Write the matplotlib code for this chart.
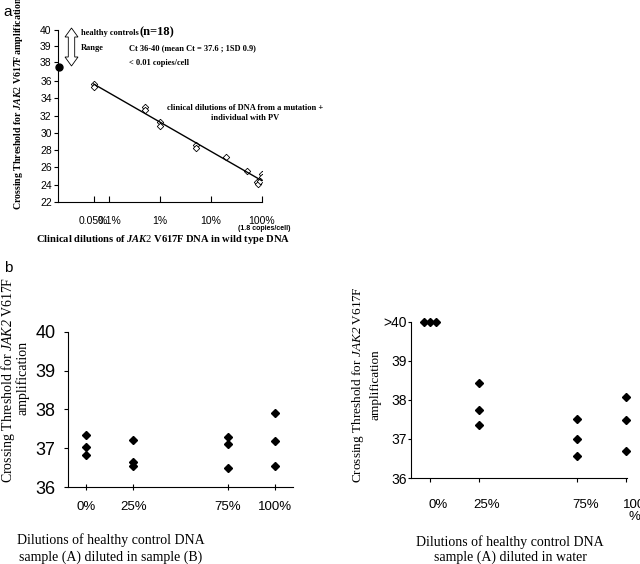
import numpy as np
import matplotlib
matplotlib.use("Agg")
import matplotlib.pyplot as plt
import matplotlib.patches as mpatches
import matplotlib.transforms as mtrans

plt.rcParams['font.family'] = ['Liberation Sans', 'DejaVu Sans']
plt.rcParams['mathtext.fontset'] = 'custom'
plt.rcParams['mathtext.it'] = 'Liberation Serif:italic:bold'
plt.rcParams['mathtext.sf'] = 'Liberation Serif:italic'
plt.rcParams['mathtext.rm'] = 'Liberation Serif'

SERIF = 'Liberation Serif'

# --- panel a: dilution series of a JAK2 V617F positive PV sample ---
dil_pct = [0.05, 0.05, 0.5, 0.5, 1, 1, 5, 5, 20, 50, 100, 100, 80, 85, 90]
ct_dil = [35.7, 35.3, 33.0, 32.7, 31.3, 30.8, 28.6, 28.3, 27.2, 25.6,
          25.2, 24.9, 24.3, 24.1, 24.4]
healthy_x = 0.0105
healthy_ct = 37.5
a_xticks = [0.05, 0.1, 1, 10, 100]
a_xlabels = ['0.05%', '0.1%', '1%', '10%', '100%']
a_yticks = [22, 24, 26, 28, 30, 32, 34, 36, 38, 39, 40]

# --- panel b: healthy control dilutions ---
b_pos = [0, 25, 75, 100]
b_labels = ['0%', '25%', '75%', '100%']
ct_in_B = [[37.35, 37.02, 36.82],
           [37.2, 36.65, 36.55],
           [37.28, 37.1, 36.48],
           [37.9, 37.18, 36.54]]
ct_in_water = [[40, 40, 40],
               [38.43, 37.73, 37.36],
               [37.5, 37.0, 36.56],
               [38.08, 37.49, 36.7]]
water_jitter = [[-3, 0, 3], [0, 0, 0], [0, 0, 0], [0, 0, 0]]
water_labels = ['0%', '25%', '75%', '100\n%']
b_yticks = [36, 37, 38, 39, 40]

W, H = 640, 564
fig = plt.figure(figsize=(W / 100, H / 100), dpi=100)


def box(l, t, r, b):
    return [l / W, 1 - b / H, (r - l) / W, (b - t) / H]


def fpos(x, y):
    return x / W, 1 - y / H


# broken-looking y axis of panel a: 36-40 is stretched
kv = [0, 22, 36, 38, 40, 60]
kp = [-190, 0, 121, 140, 172, 492]


def fwd(y):
    return np.interp(y, kv, kp)


def inv(t):
    return np.interp(t, kp, kv)


ax = fig.add_axes(box(58, 30, 262, 202))
ax.set_xscale('log')
ax.set_yscale('function', functions=(fwd, inv))
ax.set_xlim(0.01, 100)
ax.set_ylim(22, 40)
for s in ['top', 'right']:
    ax.spines[s].set_visible(False)
for s in ['left', 'bottom']:
    ax.spines[s].set_linewidth(0.8)

ax.plot(dil_pct, ct_dil, 'D', ms=3.3, mfc='white', mec='black', mew=0.6)
k, c = np.polyfit(np.log10(dil_pct), ct_dil, 1)
lx = np.array([min(dil_pct), max(dil_pct)])
ax.plot(lx, k * np.log10(lx) + c, color='black', lw=1)
ax.plot([healthy_x], [healthy_ct], 'o', ms=5, color='black', clip_on=False)

ax.set_xticks(a_xticks)
ax.set_xticklabels(a_xlabels, fontsize=7.5)
ax.xaxis.set_minor_locator(matplotlib.ticker.NullLocator())
ax.set_yticks(a_yticks)
ax.set_yticklabels([str(v) for v in a_yticks], fontsize=7.5)
ax.yaxis.set_minor_locator(matplotlib.ticker.NullLocator())
ax.tick_params(axis='x', direction='in', length=4, width=0.8, pad=10)
ax.tick_params(axis='y', direction='out', length=3, width=0.8, pad=1.5)

fig.text(*fpos(19, 103), r'Crossing Threshold for $\mathit{JAK2}$ V617F amplification',
         rotation=90, ha='center', va='center', fontsize=7.1,
         family=SERIF, weight='bold')
fig.text(*fpos(163, 239), r'Clinical dilutions of $\mathit{JAK2}$ V617F DNA in wild type DNA',
         ha='center', va='center', fontsize=7.6, family=SERIF, weight='bold')
fig.text(*fpos(264, 229), '(1.8 copies/cell)', ha='center', va='center',
         fontsize=5, weight='bold')

# hollow double arrow
ax_c, hw, sw = 71.5, 6.5, 3.2
top, bot, hl = 28, 66, 9
arrow_px = [(ax_c, top), (ax_c + hw, top + hl), (ax_c + sw, top + hl),
            (ax_c + sw, bot - hl), (ax_c + hw, bot - hl), (ax_c, bot),
            (ax_c - hw, bot - hl), (ax_c - sw, bot - hl), (ax_c - sw, top + hl),
            (ax_c - hw, top + hl)]
fig.patches.append(mpatches.Polygon([fpos(x, y) for x, y in arrow_px], closed=True,
                                    fc='white', ec='black', lw=0.6,
                                    transform=fig.transFigure))

tkw = dict(family=SERIF, weight='bold', fontsize=6, va='center')
fig.text(*fpos(81, 33), 'healthy controls', **tkw)
fig.text(*fpos(140, 32.5), '(n=18)', family=SERIF, weight='bold', fontsize=9, va='center')
fig.text(*fpos(81, 48.5), 'Range', **tkw)
fig.text(*fpos(129, 48.5), 'Ct 36-40 (mean Ct = 37.6 ; 1SD 0.9)', **tkw)
fig.text(*fpos(129, 63), '< 0.01 copies/cell', **tkw)
fig.text(*fpos(245, 108), 'clinical dilutions of DNA from a mutation +',
         ha='center', **tkw)
fig.text(*fpos(245, 118), 'individual with PV', ha='center', **tkw)

fig.text(*fpos(3, 12), 'a', fontsize=11, va='center')
fig.text(*fpos(4, 268), 'b', fontsize=11, va='center')

# --- panel b left ---
bl = fig.add_axes(box(68, 331.7, 293, 487))
for i, p in enumerate(b_pos):
    bl.plot([p] * len(ct_in_B[i]), ct_in_B[i], 'D', ms=4.3, color='black',
            clip_on=False)
bl.set_xlim(-9.5, 109.5)
bl.set_ylim(36, 40)
for s in ['top', 'right']:
    bl.spines[s].set_visible(False)
bl.set_xticks(b_pos)
bl.set_xticklabels(b_labels, fontsize=9.5)
bl.set_yticks(b_yticks)
bl.set_yticklabels([str(v) for v in b_yticks], fontsize=13)
bl.tick_params(axis='x', direction='inout', length=4, width=0.8, pad=8)
bl.tick_params(axis='y', direction='out', length=3, width=0.8, pad=6)
fig.text(*fpos(8, 380), r'Crossing Threshold for $\mathsf{JAK2}$ V617F',
         rotation=90, ha='center', va='center', fontsize=10, family=SERIF)
fig.text(*fpos(23, 378), 'amplification',
         rotation=90, ha='center', va='center', fontsize=10, family=SERIF)
fig.text(*fpos(111, 540), 'Dilutions of healthy control DNA', ha='center',
         va='center', fontsize=10, family=SERIF)
fig.text(*fpos(111, 557), 'sample (A) diluted in sample (B)', ha='center',
         va='center', fontsize=10, family=SERIF)

# --- panel b right ---
br = fig.add_axes(box(411, 321.7, 627, 478))
for i, p in enumerate(b_pos):
    xs = [p + j for j in water_jitter[i]]
    br.plot(xs, ct_in_water[i], 'D', ms=4.3, color='black', clip_on=False)
br.set_xlim(-9.6, 100.3)
br.set_ylim(36, 40)
for s in ['top', 'right']:
    br.spines[s].set_visible(False)
br.set_xticks(b_pos)
br.set_xticklabels(water_labels, fontsize=9.5, linespacing=1.0)
br.set_yticks(b_yticks)
br.set_yticklabels(['36', '37', '38', '39', '>40'], fontsize=10)
br.tick_params(axis='x', direction='out', length=3, width=0.8, pad=12)
br.tick_params(axis='y', direction='out', length=2, width=0.8, pad=1)
shift = mtrans.ScaledTranslation(8 / 100, 0, fig.dpi_scale_trans)
for lab in br.get_xticklabels():
    lab.set_transform(lab.get_transform() + shift)
fig.text(*fpos(358, 385), r'Crossing Threshold for $\mathsf{JAK2}$ V617F',
         rotation=90, ha='center', va='center', fontsize=9.5, family=SERIF)
fig.text(*fpos(375, 385), 'amplification',
         rotation=90, ha='center', va='center', fontsize=9.5, family=SERIF)
fig.text(*fpos(510, 542), 'Dilutions of healthy control DNA', ha='center',
         va='center', fontsize=10, family=SERIF)
fig.text(*fpos(510, 557), 'sample (A) diluted in water', ha='center',
         va='center', fontsize=10, family=SERIF)

fig.savefig('out.png', dpi=100)
